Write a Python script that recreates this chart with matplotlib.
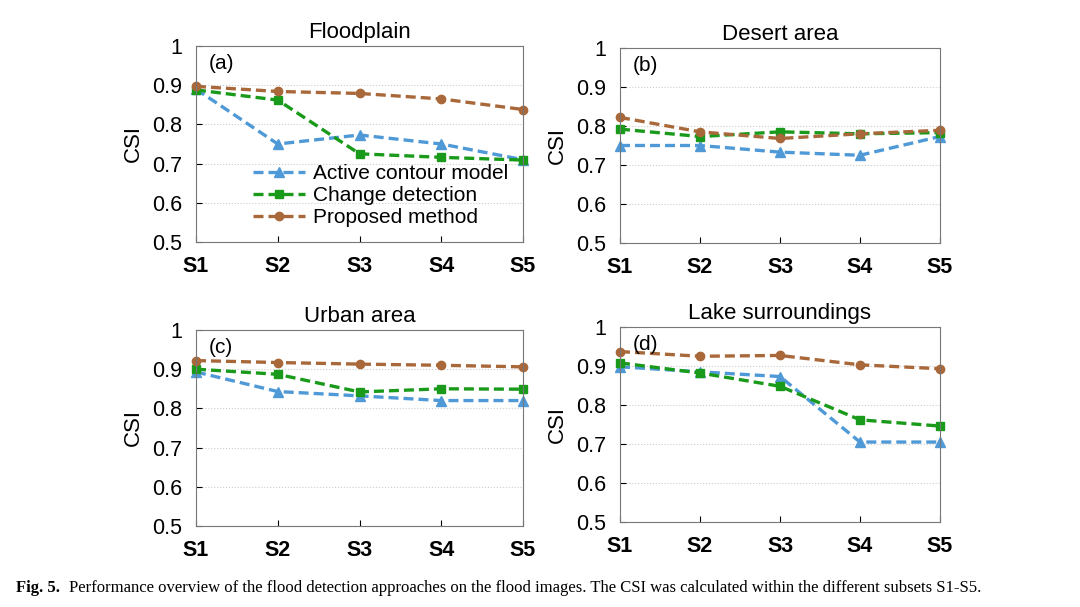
import matplotlib.pyplot as plt

subsets = ["S1", "S2", "S3", "S4", "S5"]
titles = ["Floodplain", "Desert area", "Urban area", "Lake surroundings"]
labels = ["(a)", "(b)", "(c)", "(d)"]
acm = [[0.890, 0.750, 0.773, 0.750, 0.710],
       [0.750, 0.750, 0.733, 0.725, 0.773],
       [0.893, 0.843, 0.832, 0.820, 0.820],
       [0.898, 0.885, 0.873, 0.705, 0.705]]
cd = [[0.888, 0.862, 0.725, 0.716, 0.709],
      [0.792, 0.773, 0.785, 0.780, 0.783],
      [0.900, 0.887, 0.842, 0.850, 0.849],
      [0.908, 0.882, 0.848, 0.762, 0.746]]
pm = [[0.897, 0.884, 0.879, 0.865, 0.838],
      [0.822, 0.785, 0.768, 0.780, 0.789],
      [0.922, 0.917, 0.913, 0.910, 0.906],
      [0.937, 0.925, 0.927, 0.903, 0.893]]
yticks = [0.5, 0.6, 0.7, 0.8, 0.9, 1.0]
yticklabels = ["0.5", "0.6", "0.7", "0.8", "0.9", "1"]

plt.rcParams['font.family'] = ['Liberation Sans', 'DejaVu Sans']
fig = plt.figure(figsize=(10.8, 6.07), dpi=100)
W, H = 1080, 607
boxes = [(196, 46, 523, 242), (620, 48, 940, 243), (196, 330, 523, 526), (620, 327, 940, 522)]
for i, (x0, y0, x1, y1) in enumerate(boxes):
    ax = fig.add_axes([x0 / W, 1 - y1 / H, (x1 - x0) / W, (y1 - y0) / H])
    x = range(len(subsets))
    ax.plot(x, acm[i], lw=2.4, color='#4f9ad6', marker='^', ms=7, label='Active contour model', dashes=(3, 1.5))
    ax.plot(x, cd[i], lw=2.4, color='#1a9a1a', marker='s', ms=6, label='Change detection', dashes=(3, 1.5))
    ax.plot(x, pm[i], lw=2.4, color='#a8683a', marker='o', ms=6, label='Proposed method', dashes=(3, 1.5))
    ax.set_xlim(0, 4)
    ax.set_ylim(0.5, 1.0)
    ax.set_yticks(yticks)
    ax.set_yticklabels(yticklabels, fontsize=15.5)
    ax.set_xticks(list(x))
    ax.set_xticklabels(subsets, fontsize=15.5, fontweight='bold')
    ax.tick_params(axis='y', length=4, direction='in', pad=10)
    ax.tick_params(axis='x', length=4, direction='in', pad=10)
    for g in [0.6, 0.7, 0.8, 0.9]:
        ax.axhline(g, color='#cccccc', lw=0.8, ls=':', zorder=0)
    for s in ax.spines.values():
        s.set_color('#777777')
    ax.set_ylabel('CSI', fontsize=16, labelpad=6)
    ax.set_title(titles[i], fontsize=16, pad=6)
    ax.text(0.04, 0.96, labels[i], transform=ax.transAxes, fontsize=15, va='top')
    for ln in ax.lines[:3]:
        ln.set_clip_on(False)
    if i == 0:
        ax.legend(loc='lower right', bbox_to_anchor=(1.0, 0.0), frameon=False, fontsize=15,
                  handlelength=2.5, borderpad=0.2, labelspacing=0.15, handletextpad=0.4)

fig.text(0.015, 0.025, "Fig. 5.", fontsize=12, family='Liberation Serif', fontweight='bold')
fig.text(0.064, 0.025, "Performance overview of the flood detection approaches on the flood images. The CSI was calculated within the different subsets S1-S5.",
         fontsize=12, family='Liberation Serif')
fig.savefig('out.png', dpi=100)
